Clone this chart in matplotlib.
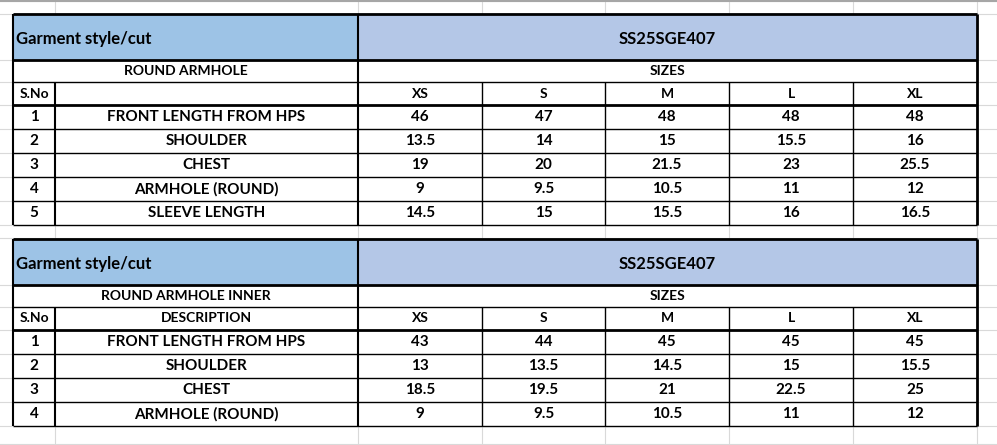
import matplotlib.pyplot as plt
from matplotlib.patches import Rectangle

plt.rcParams['font.family'] = ['Lato', 'DejaVu Sans']

style_code = 'SS25SGE407'
sizes = ['XS', 'S', 'M', 'L', 'XL']

t1_title = 'ROUND ARMHOLE'
t1_desc = ['FRONT LENGTH FROM HPS', 'SHOULDER', 'CHEST', 'ARMHOLE (ROUND)', 'SLEEVE LENGTH']
t1_vals = [
    ['46', '47', '48', '48', '48'],
    ['13.5', '14', '15', '15.5', '16'],
    ['19', '20', '21.5', '23', '25.5'],
    ['9', '9.5', '10.5', '11', '12'],
    ['14.5', '15', '15.5', '16', '16.5'],
]

t2_title = 'ROUND ARMHOLE INNER'
t2_desc = ['FRONT LENGTH FROM HPS', 'SHOULDER', 'CHEST', 'ARMHOLE (ROUND)']
t2_vals = [
    ['43', '44', '45', '45', '45'],
    ['13', '13.5', '14.5', '15', '15.5'],
    ['18.5', '19.5', '21', '22.5', '25'],
    ['9', '9.5', '10.5', '11', '12'],
]

W, H = 997, 445
fig = plt.figure(figsize=(W / 100, H / 100), dpi=100)
ax = fig.add_axes([0, 0, 1, 1])
ax.set_xlim(0, W)
ax.set_ylim(H, 0)
ax.axis('off')

# column edges (pixels)
xs = [13, 55, 358, 482, 605, 729, 853, 977]
grid = '#d9d9d9'

# excel background grid
for x in [55, 358, 482, 605, 729, 853, 977]:
    ax.plot([x, x], [0, H], color=grid, lw=0.8, zorder=0)
for y in [1, 14, 60, 82, 105, 129, 153, 177, 201, 225, 238, 285, 307, 330,
          354, 378, 402, 426, 444]:
    ax.plot([0, W], [y, y], color=grid, lw=0.8, zorder=0)
ax.plot([0, W], [1, 1], color='#a6a6a6', lw=1.5, zorder=0)


def hline(y, x0, x1, lw=1.0):
    ax.plot([x0, x1], [y, y], color='black', lw=lw, zorder=3, solid_capstyle='butt')


def vline(x, y0, y1, lw=1.0):
    ax.plot([x, x], [y0, y1], color='black', lw=lw, zorder=3, solid_capstyle='butt')


def txt(x, y, s, ha='center', size=11):
    ax.text(x, y, s, ha=ha, va='center', fontsize=size, fontweight='bold', zorder=4)


def draw_table(top, head_h, title, desc_label, descs, vals):
    y_head = top + head_h
    y_sub = y_head + 22
    y_cols = y_sub + 23
    row_h = 24
    bottom = y_cols + row_h * len(descs)
    ax.add_patch(Rectangle((xs[0], top), xs[2] - xs[0], head_h, color='#9dc3e6', zorder=1))
    ax.add_patch(Rectangle((xs[2], top), xs[-1] - xs[2], head_h, color='#b4c7e7', zorder=1))
    ax.add_patch(Rectangle((xs[0], y_head), xs[-1] - xs[0], bottom - y_head, color='white', zorder=1))
    txt(xs[0] + 3, top + head_h / 2 + 2, 'Garment style/cut', ha='left', size=12)
    txt((xs[2] + xs[-1]) / 2, top + head_h / 2 + 2, style_code, size=12)
    txt((xs[0] + xs[2]) / 2, (y_head + y_sub) / 2, title, size=10)
    txt((xs[2] + xs[-1]) / 2, (y_head + y_sub) / 2, 'SIZES', size=10)
    txt((xs[0] + xs[1]) / 2, (y_sub + y_cols) / 2, 'S.No', size=10)
    txt((xs[1] + xs[2]) / 2, (y_sub + y_cols) / 2, desc_label, size=10)
    for j, s in enumerate(sizes):
        txt((xs[j + 2] + xs[j + 3]) / 2, (y_sub + y_cols) / 2, s, size=10)
    for i, d in enumerate(descs):
        yc = y_cols + row_h * (i + 0.5)
        txt((xs[0] + xs[1]) / 2, yc, str(i + 1))
        txt((xs[1] + xs[2]) / 2, yc, d)
        for j, v in enumerate(vals[i]):
            txt((xs[j + 2] + xs[j + 3]) / 2, yc, v)
    # borders
    hline(top, xs[0], xs[-1], 2)
    hline(y_head, xs[0], xs[-1], 2)
    hline(y_sub, xs[0], xs[-1])
    hline(y_cols, xs[0], xs[-1], 2)
    for i in range(1, len(descs) + 1):
        hline(y_cols + row_h * i, xs[0], xs[-1])
    vline(xs[0], top, bottom, 1.5)
    vline(xs[-1], top, bottom, 2)
    vline(xs[2], top, bottom, 1.5)
    vline(xs[1], y_sub, bottom, 1.5)
    for x in xs[3:-1]:
        vline(x, y_cols - 23, bottom)


draw_table(14, 46, t1_title, '', t1_desc, t1_vals)
draw_table(239, 46, t2_title, 'DESCRIPTION', t2_desc, t2_vals)

fig.savefig('out.png', dpi=100)
